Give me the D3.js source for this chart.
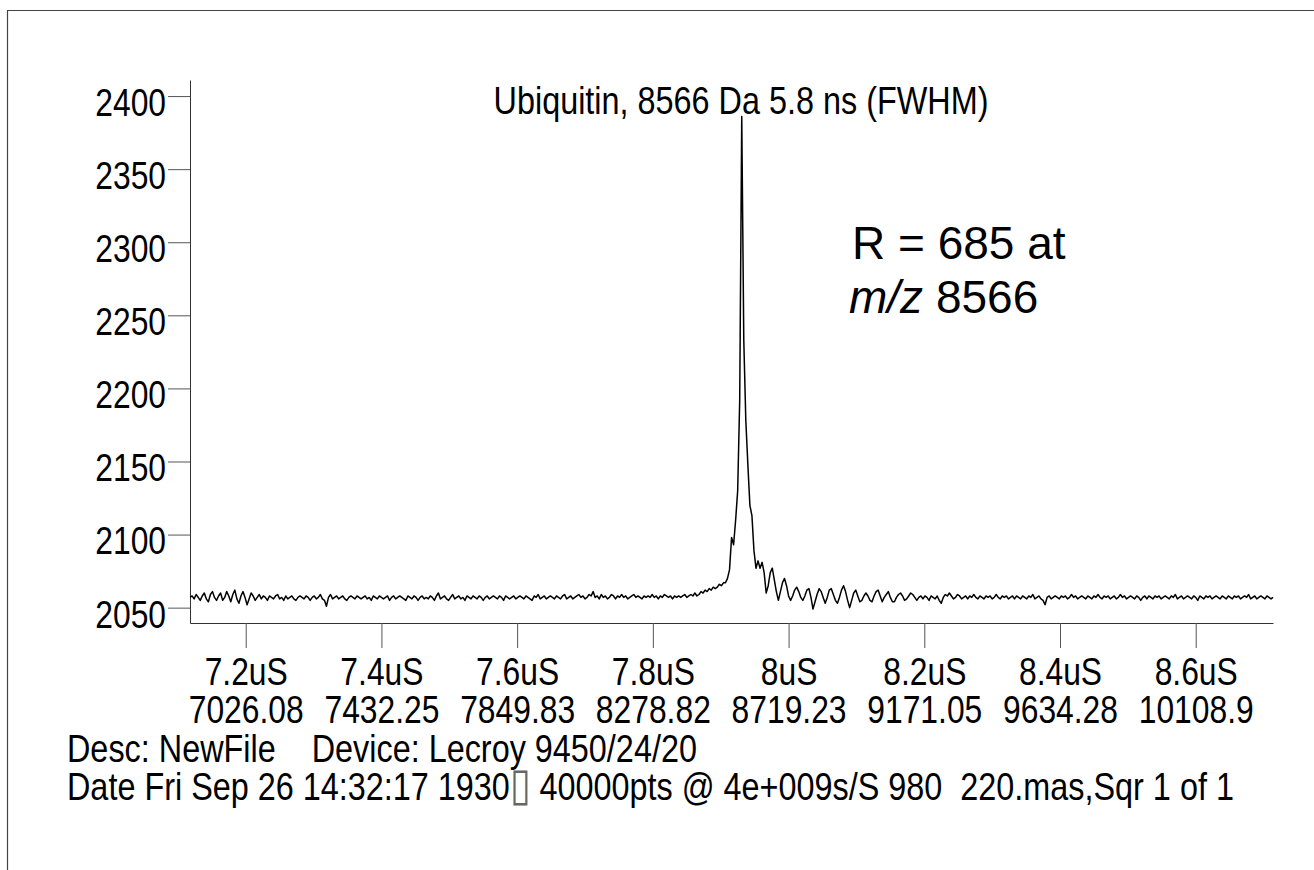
<!DOCTYPE html>
<html>
<head>
<meta charset="utf-8">
<script src="https://cdn.jsdelivr.net/npm/d3@7"></script>
<style>
  body { margin: 0; background: #fff; }
  svg text { fill: #000; }
</style>
</head>
<body>
<svg class="svgChart" width="1314" height="870"></svg>
<script>
/****************************************************************
    Data
/****************************************************************/
const startTime = 7.118 //us, first sample of the decimated trace
const timeStep = 0.003 //us between samples

const signal = [
  2057,2058,2056,2059,2057,2055,2058,2060,2056,2054,2059,2061,2057,2055,2058,2060,2055,2057,2061,2058,
  2054,2059,2062,2056,2053,2058,2061,2057,2052,2056,2060,2058,2055,2057,2059,2056,2058,2057,2055,2058,
  2057,2056,2058,2059,2056,2057,2055,2058,2056,2057,2058,2056,2055,2057,2058,2057,2056,2058,2057,2055,
  2057,2058,2056,2057,2059,2056,2055,2051,2057,2059,2056,2057,2058,2056,2057,2058,2056,2055,2057,2058,
  2057,2056,2058,2057,2056,2057,2058,2056,2057,2055,2058,2057,2056,2058,2057,2056,2057,2058,2055,2057,
  2058,2056,2057,2058,2057,2056,2055,2058,2057,2056,2058,2057,2055,2057,2058,2056,2057,2056,2058,2057,
  2055,2058,2060,2056,2057,2058,2056,2055,2057,2059,2056,2057,2058,2056,2057,2055,2058,2057,2056,2058,
  2057,2056,2058,2057,2055,2057,2058,2056,2057,2058,2057,2056,2058,2057,2055,2058,2057,2056,2057,2058,
  2056,2057,2058,2057,2056,2058,2057,2056,2055,2058,2057,2059,2056,2057,2058,2056,2057,2058,2057,2056,
  2058,2057,2056,2058,2059,2056,2057,2058,2056,2057,2058,2059,2057,2058,2056,2057,2059,2058,2061,2057,
  2058,2056,2059,2057,2058,2056,2057,2059,2058,2056,2058,2057,2059,2057,2058,2056,2057,2058,2059,2057,
  2058,2057,2056,2058,2057,2058,2057,2059,2057,2058,2056,2058,2057,2059,2058,2057,2058,2056,2058,2057,
  2058,2057,2058,2059,2057,2058,2059,2058,2060,2058,2059,2061,2060,2062,2061,2063,2062,2064,2063,2064,
  2066,2065,2067,
  // rising edge, peak and ringing
  2067,2070,2076,2098,2093,2110,2130,2192,2386,2233,2178,2148,2120,2113,2089,2077,2082,2077,2081,2074,
  2060,2065,2074,2077,2069,2061,2055,2061,2067,2070,2065,2058,2055,2058,2062,2064,2061,2057,2055,2058,
  2062,2063,2057,2049,2054,2059,2063,2061,2057,2053,2057,2062,2063,2059,2055,2053,2057,2062,2065,2061,
  2055,2050,2055,2060,2062,2058,2054,2055,2058,2060,2058,2055,2054,2058,2061,2062,2058,2054,2057,2059,
  2061,2057,2054,2054,2057,2059,2060,2058,2055,2056,2058,2060,2059,2057,2055,2057,2058,
  // tail
  2056,2058,2057,2055,2058,2057,2056,2058,2055,2053,2057,2059,2058,2060,2058,2056,2057,2059,2058,2056,
  2057,2058,2056,2058,2057,2059,2057,2056,2058,2057,
  2056,2058,2057,2058,2056,2057,2059,2057,2056,2058,2057,2058,2056,2057,2058,2056,2058,2057,2056,2058,
  2057,2056,2058,2057,2059,2056,2057,2058,2056,2055,2052,2057,2058,2056,2057,2058,2057,2056,2058,2057,
  2058,2056,2057,2059,2057,2058,2056,2057,2058,2057,2056,2058,2057,2056,2058,2057,2059,2057,2056,2058,
  2057,2058,2056,2057,2058,2056,2057,2059,2057,2058,2056,2057,2058,2057,2056,2058,2057,2055,2057,2058,
  2056,2058,2057,2056,2058,2057,2058,2056,2057,2058,2057,2056,2058,2057,2059,2056,2057,2058,2056,2057,
  2058,2057,2056,2058,2057,2055,2058,2057,2056,2058,2057,2058,2056,2057,2058,2057,2056,2058,2057,2056,
  2058,2057,2056,2058,2057,2058,2056,2057,2058,2057,2059,2056,2057,2058,2056,2057,2058,2057,2056,2058,
  2057,2056,2057
]

const timeTicks = [7.2, 7.4, 7.6, 7.8, 8.0, 8.2, 8.4, 8.6]
const timeLabels = ['7.2uS', '7.4uS', '7.6uS', '7.8uS', '8uS', '8.2uS', '8.4uS', '8.6uS']
const massLabels = ['7026.08', '7432.25', '7849.83', '8278.82', '8719.23', '9171.05', '9634.28', '10108.9']
const countTicks = [2050, 2100, 2150, 2200, 2250, 2300, 2350, 2400]

const titleText = 'Ubiquitin, 8566 Da 5.8 ns (FWHM)'
const descLine = 'Desc: NewFile    Device: Lecroy 9450/24/20'
const dateHead = 'Date Fri Sep 26 14:32:17 1930'
const dateMark = '\u25AF'
const dateTail = ' 40000pts @ 4e+009s/S 980  220.mas,Sqr 1 of 1'

/****************************************************************
    Layout settings
/****************************************************************/
const settings = {
  left: 190, //x of the vertical axis
  right: 1273, //end of the time axis
  top: 80, //top of the vertical axis
  bottom: 623, //y of the time axis
  timeDomain: [7.1179, 8.7139],
  countDomain: [2039.5, 2411],
  font: '"Liberation Sans", Arial, sans-serif',
  squeeze: 0.82, //no narrow face installed, so the labels are squeezed by hand
  labelSize: 38.8,
  titleSize: 39.5,
  footerSize: 39.5,
  axisColor: '#333',
  tickColor: '#555'
}

const svg = d3.select('.svgChart')

const x = d3.scaleLinear().domain(settings.timeDomain).range([settings.left, settings.right])
const y = d3.scaleLinear().domain(settings.countDomain).range([settings.bottom, settings.top])

//squeezes texts horizontally, keeping their anchor point where it was
function narrow(texts, size) {
  texts.each(function () {
    let t = d3.select(this)
    t.attr('x', (+t.attr('x') || 0) / settings.squeeze)
      .attr('transform', `scale(${settings.squeeze},1)`)
      .style('font-family', settings.font)
      .style('font-size', (size || settings.labelSize) + 'px')
  })
}

/****************************************************************
    Page frame (left and top edges only)
/****************************************************************/
svg.append('path')
  .attr('d', 'M7.5,870 V10.5 H1314')
  .attr('fill', 'none')
  .attr('stroke', '#444')
  .attr('stroke-width', 1.2)

/****************************************************************
    Axes
/****************************************************************/
let yAxis = svg.append('g')
  .attr('transform', `translate(${settings.left},0)`)
  .call(d3.axisLeft(y).tickValues(countTicks).tickSize(22).tickSizeOuter(0).tickPadding(2).tickFormat(d3.format('d')))
yAxis.select('.domain').attr('stroke', settings.axisColor)
yAxis.selectAll('.tick line').attr('stroke', settings.tickColor)
yAxis.selectAll('.tick text').attr('dy', '0.5em').call(narrow)

let xAxis = svg.append('g')
  .attr('transform', `translate(0,${settings.bottom})`)
  .call(d3.axisBottom(x).tickValues(timeTicks).tickSize(25).tickSizeOuter(0).tickFormat(() => ''))
xAxis.select('.domain').attr('stroke', settings.axisColor)
xAxis.selectAll('.tick line').attr('stroke', settings.tickColor)
xAxis.selectAll('.tick text').remove()
xAxis.selectAll('.tick').each(function (d, i) {
  let tick = d3.select(this)
  tick.append('text').attr('y', 62).text(timeLabels[i])
  tick.append('text').attr('y', 100).text(massLabels[i])
})
xAxis.selectAll('.tick text').attr('text-anchor', 'middle').call(narrow)

/****************************************************************
    The trace
/****************************************************************/
let line = d3.line()
  .x((d, i) => x(startTime + i * timeStep))
  .y(d => y(d))

svg.append('path')
  .datum(signal)
  .attr('d', line)
  .attr('fill', 'none')
  .attr('stroke', '#000')
  .attr('stroke-width', 1.5)
  .attr('stroke-linejoin', 'round')

/****************************************************************
    Texts
/****************************************************************/
svg.append('text')
  .attr('x', 741)
  .attr('y', 114)
  .attr('text-anchor', 'middle')
  .text(titleText)
  .call(narrow, settings.titleSize)

let note = svg.append('text')
  .style('font-family', settings.font)
  .style('font-size', '46px')
note.append('tspan').attr('x', 852).attr('y', 259).text('R = 685 at')
note.append('tspan').attr('x', 849).attr('y', 313).style('font-style', 'italic').text('m/z')
note.append('tspan').text(' 8566')

svg.append('text')
  .attr('x', 67)
  .attr('y', 762)
  .attr('xml:space', 'preserve')
  .style('white-space', 'pre')
  .text(descLine)
  .call(narrow, settings.footerSize)

let dateText = svg.append('text')
  .attr('x', 67)
  .attr('y', 800)
  .attr('xml:space', 'preserve')
  .style('white-space', 'pre')
  .call(narrow, settings.footerSize)
dateText.append('tspan').text(dateHead)
dateText.append('tspan')
  .style('font-size', '46px')
  .style('fill', '#666')
  .text(dateMark)
dateText.append('tspan').text(dateTail)
</script>
</body>
</html>
